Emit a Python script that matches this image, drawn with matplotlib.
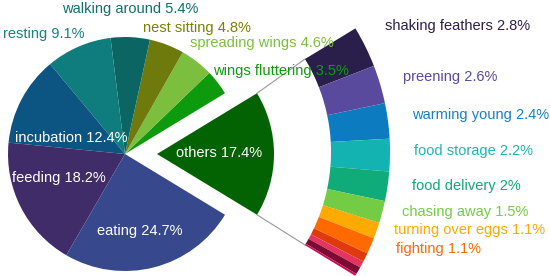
import numpy as np
import matplotlib
matplotlib.use("Agg")
import matplotlib.pyplot as plt

plt.rcParams['font.family'] = ['Liberation Sans', 'DejaVu Sans']

# ---- data ----
main_labels = ["others", "wings fluttering", "spreading wings", "nest sitting",
               "walking around", "resting", "incubation", "feeding", "eating"]
main_values = [17.4, 3.5, 4.6, 4.8, 5.4, 9.1, 12.4, 18.2, 24.7]
main_colors = ["#036303", "#0d9a0d", "#7cbf3f", "#6e7a0c", "#0b6663",
               "#0f7d7d", "#0c5582", "#3f2c68", "#37498c"]
main_text_colors = ["white", "#0d9a0d", "#7cbf3f", "#7a8000", "#0f706e",
                    "#1a8080", "white", "white", "white"]

sub_labels = ["shaking feathers", "preening", "warming young", "food storage",
              "food delivery", "chasing away", "turning over eggs", "fighting",
              "", "", "", ""]
sub_values = [2.8, 2.6, 2.4, 2.2, 2.0, 1.5, 1.1, 1.1, 0.6, 0.45, 0.5, 0.15]
sub_value_text = ["2.8%", "2.6%", "2.4%", "2.2%", "2%", "1.5%", "1.1%", "1.1%",
                  "", "", "", ""]
sub_colors = ["#2a1f4a", "#5a4a9e", "#0c7bc0", "#12b3b0", "#0fab78", "#74cc44",
              "#ffaa00", "#ff6a00", "#e03a0c", "#e33560", "#7d0a32", "#c8105a"]
sub_text_colors = ["#2a1f4a", "#5a4a9e", "#1a80c0", "#20b5b5", "#12a878",
                   "#74cc44", "#ffaa00", "#ff6a00", "", "", "", ""]

# ---- layout (pixel space, y measured from top) ----
W, H = 550, 276
fig = plt.figure(figsize=(W / 100, H / 100), dpi=100)
ax = fig.add_axes([0, 0, 1, 1])

def Y(y):
    return H - y

pie_center = (125, Y(154))
pie_r = 117
explode_px = 32
others_span = main_values[0] / sum(main_values) * 360.0
start = -others_span / 2

explode = [explode_px] + [0] * (len(main_values) - 1)
ax.pie(main_values, colors=main_colors, radius=pie_r, center=pie_center,
       startangle=start, counterclock=True, explode=explode,
       wedgeprops=dict(linewidth=0))

# arc of the "others" breakdown
arc_center = (152, Y(152))
arc_r = 238
arc_w = 59
sub_frac = [v / 100.0 for v in sub_values]
ax.pie(sub_frac, colors=sub_colors, radius=arc_r, center=arc_center,
       startangle=others_span / 2, counterclock=False, normalize=False,
       wedgeprops=dict(width=arc_w, linewidth=0))

# connector lines
apex = (pie_center[0] + explode_px, pie_center[1])
for sgn in (1, -1):
    th = np.deg2rad(sgn * others_span / 2)
    p1 = (apex[0] + pie_r * np.cos(th), apex[1] + pie_r * np.sin(th))
    ri = arc_r - arc_w
    p2 = (arc_center[0] + ri * np.cos(th), arc_center[1] + ri * np.sin(th))
    ax.plot([p1[0], p2[0]], [p1[1], p2[1]], color="#999999", lw=0.8, zorder=0)

fs = 10.5
# main labels positions (left x, centre y from top)
main_pos = [(176, 153), (213, 71), (190, 43), (143, 28), (62, 9),
            (3, 34), (15, 138), (12, 178), (97, 231)]
for lab, v, c, (x, y) in zip(main_labels, main_values, main_text_colors, main_pos):
    ax.text(x, Y(y), f"{lab} {v}%", color=c, fontsize=fs, ha="left", va="center")

sub_pos = [(385, 26), (403, 77), (412, 115), (414, 151), (412, 186),
           (402, 212), (394, 230), (396, 249)]
for lab, vt, c, (x, y) in zip(sub_labels, sub_value_text, sub_text_colors, sub_pos):
    ax.text(x, Y(y), f"{lab} {vt}", color=c, fontsize=fs, ha="left", va="center")

ax.set_xlim(0, W)
ax.set_ylim(0, H)
ax.set_aspect("auto")
ax.axis("off")
fig.savefig("out.png", dpi=100)
